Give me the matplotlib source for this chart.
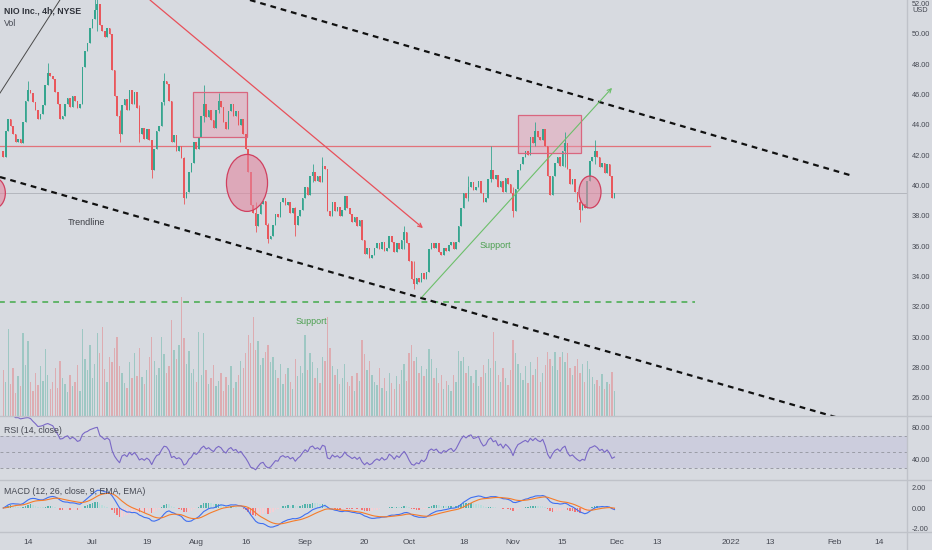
import numpy as np
import pandas as pd
import matplotlib
matplotlib.use("Agg")
import matplotlib.pyplot as plt
from matplotlib.patches import Rectangle, Ellipse
from matplotlib.lines import Line2D

plt.rcParams['font.family'] = ['Liberation Sans', 'DejaVu Sans']

# NIO 4h closes, Jun 7 -> Nov 30 2021 (2 bars per session)
closes = [
    41.9, 43.6, 44.4, 43.9, 43.4, 42.9, 43.1, 42.8, 44.2, 45.6,
    46.3, 46.1, 45.5, 45.0, 44.4, 44.7, 45.3, 46.6, 47.4, 47.2,
    47.0, 46.2, 45.4, 44.4, 44.6, 45.4, 45.8, 45.2, 45.9, 45.6,
    45.1, 45.4, 47.8, 48.9, 49.4, 50.4, 51.0, 51.6, 52.0, 50.6,
    50.2, 49.8, 50.4, 50.0, 47.6, 45.9, 44.6, 43.4, 45.3, 45.7,
    45.0, 46.3, 45.4, 46.2, 45.1, 43.4, 43.8, 43.1, 43.7, 43.0,
    41.0, 42.4, 43.6, 43.9, 45.5, 46.9, 46.7, 45.6, 42.9, 43.3,
    42.3, 42.6, 41.8, 39.2, 39.6, 40.9, 41.5, 42.9, 42.4, 43.2,
    44.6, 45.4, 44.5, 45.0, 44.3, 43.8, 45.0, 45.6, 45.2, 44.2,
    43.7, 44.9, 45.4, 44.6, 44.9, 44.0, 44.4, 43.4, 42.4, 40.9,
    38.7, 38.2, 37.3, 38.1, 38.8, 39.0, 37.4, 36.5, 36.7, 37.4,
    38.1, 37.9, 38.9, 39.2, 38.7, 38.9, 38.2, 38.5, 37.4, 38.0,
    38.4, 39.2, 39.9, 39.4, 40.6, 40.9, 40.3, 40.6, 40.2, 41.3,
    41.1, 38.3, 38.0, 38.9, 38.3, 38.6, 38.0, 38.4, 39.3, 38.5,
    38.1, 37.6, 37.9, 37.3, 37.7, 36.4, 35.5, 35.9, 35.2, 35.4,
    35.9, 36.2, 35.8, 36.3, 35.7, 35.9, 36.7, 36.3, 35.6, 36.2,
    35.8, 36.4, 36.9, 36.2, 35.0, 33.8, 33.5, 33.9, 33.6, 34.2,
    33.8, 34.3, 35.8, 36.2, 35.9, 36.2, 35.6, 35.4, 35.9, 35.7,
    36.1, 36.3, 35.8, 36.3, 37.3, 38.5, 39.5, 39.2, 39.9, 40.2,
    39.7, 39.9, 40.3, 39.5, 38.9, 39.2, 40.4, 41.0, 40.4, 40.7,
    39.9, 40.3, 39.6, 40.5, 40.1, 39.5, 38.3, 39.8, 41.0, 41.4,
    41.9, 42.3, 42.0, 43.2, 42.8, 43.6, 43.2, 43.0, 43.7, 42.6,
    40.6, 39.4, 40.6, 41.5, 41.9, 41.3, 42.3, 42.8, 41.1, 40.1,
    40.4, 39.6, 38.9, 38.4, 38.8, 38.5, 40.3, 41.6, 41.9, 42.3,
    41.9, 41.2, 41.5, 40.8, 41.4, 40.6, 39.2, 39.5]
first_open = 42.3

# the visible long wicks
wick_bar = [10, 18, 37, 38, 47, 55, 60, 65, 73, 81, 87, 102, 107, 118, 125,
            129, 162, 166, 188, 197, 206, 215, 227, 233, 239]
wick_hi = [46.9, 48.1, 52.6, 53.0, 45.0, 45.3, 42.6, 47.4, 41.9, 46.6, 46.1, 38.9,
           37.5, 38.6, 41.4, 41.9, 37.3, 35.0, 40.6, 42.6, 39.9, 44.2, 43.5, 39.2, 43.0]
wick_lo = [45.9, 46.8, 51.0, 50.2, 42.9, 42.9, 40.5, 45.3, 38.8, 44.2, 44.8, 36.9,
           36.2, 36.7, 40.2, 40.7, 35.8, 33.2, 39.0, 40.2, 37.9, 42.6, 41.2, 37.6, 41.4]

volume = [
    40, 30, 76, 28, 42, 20, 35, 26, 73, 45,
    66, 30, 22, 38, 27, 44, 31, 59, 36, 24,
    30, 42, 25, 48, 33, 28, 21, 36, 26, 30,
    45, 22, 76, 50, 40, 62, 33, 46, 73, 55,
    78, 41, 30, 52, 47, 60, 69, 44, 38, 29,
    25, 47, 33, 55, 35, 60, 34, 28, 40, 52,
    69, 48, 36, 42, 69, 54, 38, 44, 84, 58,
    50, 62, 104, 68, 46, 57, 38, 41, 30, 74,
    36, 73, 40, 28, 33, 45, 26, 31, 38, 22,
    34, 27, 44, 25, 30, 36, 48, 42, 55, 71,
    64, 87, 58, 66, 45, 51, 56, 62, 47, 52,
    40, 33, 46, 28, 37, 42, 30, 24, 50, 35,
    44, 38, 71, 40, 55, 47, 33, 42, 29, 52,
    48, 87, 60, 44, 36, 41, 28, 33, 46, 30,
    26, 35, 22, 38, 31, 67, 54, 40, 48, 36,
    30, 27, 42, 25, 33, 22, 38, 29, 24, 35,
    28, 40, 46, 31, 55, 62, 48, 52, 38, 44,
    35, 41, 59, 50, 33, 42, 29, 36, 24, 31,
    27, 22, 36, 30, 57, 48, 52, 38, 44, 35,
    29, 40, 26, 34, 45, 38, 50, 42, 74, 48,
    36, 30, 42, 33, 27, 40, 67, 55, 46, 38,
    32, 44, 29, 47, 36, 41, 52, 30, 38, 45,
    56, 50, 44, 56, 40, 52, 56, 47, 55, 42,
    36, 44, 50, 38, 46, 30, 48, 41, 34, 28,
    32, 26, 37, 24, 30, 28, 39, 22]

tick_dates = ['2021-06-14', '2021-07-01', '2021-07-19', '2021-08-02', '2021-08-16',
              '2021-09-01', '2021-09-20', '2021-10-01', '2021-10-18', '2021-11-01',
              '2021-11-15', '2021-12-01', '2021-12-13', '2022-01-03', '2022-01-13',
              '2022-02-01', '2022-02-14']
tick_labels = ['14', 'Jul', '19', 'Aug', '16', 'Sep', '20', 'Oct', '18', 'Nov',
               '15', 'Dec', '13', '2022', '13', 'Feb', '14']

# drawings (bar index, price)
top_channel = [(99.7, 52.24), (343.3, 40.63)]
bottom_channel = [(-1.31, 40.56), (340.0, 24.55)]
old_trend = [(-1.31, 46.1), (22.9, 52.24)]
red_arrow = [(59.3, 52.24), (169.6, 37.19)]
green_arrow = [(169.2, 32.64), (246.0, 46.44)]
resistance = 42.61
support = 32.31
last_price = 39.52

BG = '#d7dae0'
TXT = '#454852'
SEP = '#bfc2c9'
UP = '#36a58f'
DN = '#e9575c'
LAB = 5.3

close = np.array(closes)
n = len(close)
idx = np.arange(n)
opens = np.r_[first_open, close[:-1]]
high = np.maximum(opens, close)
low = np.minimum(opens, close)
for b, h, l in zip(wick_bar, wick_hi, wick_lo):
    high[b] = max(high[b], h)
    low[b] = min(low[b], l)
up = close >= opens

W, H = 932, 550
fig = plt.figure(figsize=(W / 100, H / 100), dpi=100, facecolor=BG)


def rect(top, bottom):
    return [0, 1 - bottom / H, 907 / W, (bottom - top) / H]


ax_vol = fig.add_axes(rect(0, 416), facecolor=BG)
ax = fig.add_axes(rect(0, 416), sharex=ax_vol, facecolor='none')
ax_rsi = fig.add_axes(rect(416, 480), sharex=ax_vol, facecolor=BG)
ax_macd = fig.add_axes(rect(480, 532), sharex=ax_vol, facecolor=BG)

for a in (ax_vol, ax, ax_rsi, ax_macd):
    for s in a.spines.values():
        s.set_visible(False)
    a.tick_params(axis='x', length=0, labelbottom=False)
    a.set_xlim(-1.31, 365.2)

# volume
vcol = np.where(up, UP, DN)
ax_vol.bar(idx, volume, width=0.55, color=vcol, alpha=0.35, linewidth=0)
ax_vol.set_ylim(0, 365)
ax_vol.set_yticks([])

# candles
ccol = np.where(up, UP, DN)
ax.vlines(idx, low, high, colors=ccol, linewidth=0.6, zorder=3)
body = np.maximum(np.abs(close - opens), 0.05)
ax.bar(idx, body, bottom=np.minimum(opens, close), width=0.66, color=ccol,
       linewidth=0, zorder=4)
ax.set_ylim(24.79, 52.24)
ax.yaxis.tick_right()
ax.set_yticks(np.arange(26, 53, 2))
ax.set_yticklabels(['%.2f' % v for v in np.arange(26, 53, 2)])
ax.tick_params(axis='y', length=0, pad=3.5, labelsize=LAB, colors=TXT)

# horizontal levels
ax.axhline(last_price, color='#b3b6bd', lw=0.7, zorder=1)
ax.plot([-2, 285.6], [resistance] * 2, color='#e2727a', lw=0.9, zorder=2)
ax.plot([-2, 279.5], [support] * 2, color='#4fae57', lw=1.2, ls=(0, (3.5, 3)), zorder=2)

# trend lines
for seg in (top_channel, bottom_channel):
    ax.plot([seg[0][0], seg[1][0]], [seg[0][1], seg[1][1]], color='#111111',
            lw=1.6, ls=(0, (2.6, 2.2)), zorder=5)
ax.plot([old_trend[0][0], old_trend[1][0]], [old_trend[0][1], old_trend[1][1]],
        color='#4a4a4a', lw=0.7, zorder=2)
ax.annotate('', xy=red_arrow[1], xytext=red_arrow[0],
            arrowprops=dict(arrowstyle='->', color='#e8505a', lw=0.9,
                            shrinkA=0, shrinkB=0, mutation_scale=7), zorder=5)
ax.annotate('', xy=green_arrow[1], xytext=green_arrow[0],
            arrowprops=dict(arrowstyle='->', color='#6cbf6a', lw=0.8,
                            shrinkA=0, shrinkB=0, mutation_scale=7), zorder=5)

# boxes and circles
for x0, x1, y0, y1 in [(76.7, 98.5, 43.2, 46.17), (208.0, 233.4, 42.15, 44.65)]:
    ax.add_patch(Rectangle((x0, y0), x1 - x0, y1 - y0, facecolor='#e79bb0',
                           alpha=0.45, edgecolor='none', zorder=2))
    ax.add_patch(Rectangle((x0, y0), x1 - x0, y1 - y0, facecolor='none',
                           edgecolor='#d9667f', lw=0.9, zorder=6))
for cx, cy, w, h in [(98.5, 40.17, 16.6, 3.76), (237.1, 39.57, 8.9, 2.11),
                     (-3.6, 39.5, 8.9, 2.0)]:
    ax.add_patch(Ellipse((cx, cy), w, h, facecolor='#e2879f', alpha=0.6,
                         edgecolor='none', zorder=6))
    ax.add_patch(Ellipse((cx, cy), w, h, facecolor='none', edgecolor='#d0405f',
                         lw=0.9, zorder=6))

# labels
ax.text(26.2, 37.4, 'Trendline', fontsize=6.5, color='#3d3f46', zorder=7)
ax.text(192.6, 35.9, 'Support', fontsize=6.5, color='#4c9f50', zorder=7)
ax.text(118.3, 30.86, 'Support', fontsize=6.5, color='#4c9f50', zorder=7)
fig.text(4 / W, 1 - 11 / H, 'NIO Inc., 4h, NYSE', fontsize=6.3, fontweight='bold',
         color='#2f323a', va='center')
fig.text(4 / W, 1 - 23 / H, 'Vol', fontsize=6.3, color=TXT, va='center')
fig.text(912 / W, 1 - 10 / H, 'USD', fontsize=LAB, color=TXT, va='center')

# RSI 14
cs = pd.Series(close)
delta = cs.diff()
gain = delta.clip(lower=0).ewm(alpha=1 / 14, adjust=False).mean()
loss = (-delta.clip(upper=0)).ewm(alpha=1 / 14, adjust=False).mean()
rsi = 100 - 100 / (1 + gain / loss)
ax_rsi.axhspan(30, 70, color='#8f7fd0', alpha=0.14, lw=0)
for lv in (70, 50, 30):
    ax_rsi.axhline(lv, color='#9a9ca6', lw=0.7, ls=(0, (3, 3)))
ax_rsi.plot(idx, rsi, color='#7a68c6', lw=0.8)
ax_rsi.set_ylim(15, 95)
ax_rsi.yaxis.tick_right()
ax_rsi.set_yticks([80, 40])
ax_rsi.set_yticklabels(['80.00', '40.00'])
ax_rsi.tick_params(axis='y', length=0, pad=3.5, labelsize=LAB, colors=TXT)
ax_rsi.text(0.004, 0.78, 'RSI (14, close)', transform=ax_rsi.transAxes, fontsize=6.3,
            color=TXT, va='center')

# MACD 12 26 9
ema12 = cs.ewm(span=12, adjust=False).mean()
ema26 = cs.ewm(span=26, adjust=False).mean()
macd = ema12 - ema26
signal = macd.ewm(span=9, adjust=False).mean()
hist = (macd - signal).values
prev = np.r_[0, hist[:-1]]
hcol = np.where(hist >= 0, np.where(hist >= prev, '#26a69a', '#b2dfdb'),
                np.where(hist < prev, '#ff5252', '#ffcdd2'))
ax_macd.bar(idx, hist, width=0.6, color=hcol, alpha=0.75, linewidth=0)
ax_macd.plot(idx, macd, color='#3f6ff0', lw=0.8)
ax_macd.plot(idx, signal, color='#f57c2a', lw=0.8)
ax_macd.set_ylim(-2.33, 2.72)
ax_macd.yaxis.tick_right()
ax_macd.set_yticks([2, 0, -2])
ax_macd.set_yticklabels(['2.00', '0.00', '-2.00'])
ax_macd.tick_params(axis='y', length=0, pad=3.5, labelsize=LAB, colors=TXT)
ax_macd.text(0.004, 0.78, 'MACD (12, 26, close, 9, EMA, EMA)', transform=ax_macd.transAxes,
             fontsize=6.3, color=TXT, va='center')

# time axis on trading sessions
days = pd.bdate_range('2021-06-07', '2022-02-28')
holidays = pd.to_datetime(['2021-07-05', '2021-09-06', '2021-11-25'])
days = days[~days.isin(holidays)]
tick_pos = [2 * days.get_loc(pd.Timestamp(d)) for d in tick_dates]
ax_macd.set_xticks(tick_pos)
ax_macd.set_xticklabels(tick_labels)
ax_macd.tick_params(axis='x', length=0, pad=5, labelsize=6, colors=TXT, labelbottom=True)

# pane separators
for yy in (416, 480, 532):
    fig.add_artist(Line2D([0, 1], [1 - yy / H] * 2, color=SEP, lw=1))
fig.add_artist(Line2D([907 / W] * 2, [0, 1], color=SEP, lw=1))

fig.savefig('out.png', dpi=100, facecolor=BG)
